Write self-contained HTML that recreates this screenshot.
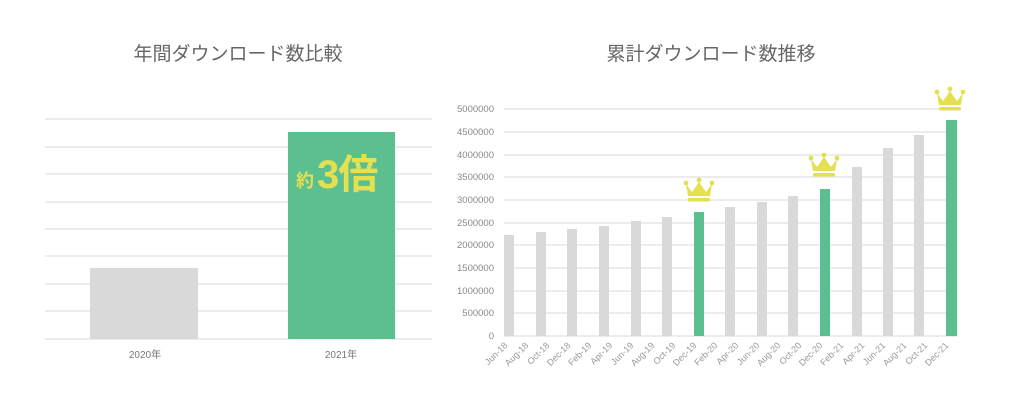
<!DOCTYPE html>
<html><head><meta charset="utf-8"><style>
html,body{margin:0;padding:0;background:#fff;}
svg{display:block;}
text{font-family:"Liberation Sans","Noto Sans CJK JP",sans-serif;}
</style></head><body>
<svg width="1024" height="400" viewBox="0 0 1024 400" xmlns="http://www.w3.org/2000/svg">
<defs>
<g id="crown">
<path d="M2,7 L8,15 L15,5 L22,15 L28,7 L26,19 L4,19 Z" fill="#e4e052"/>
<circle cx="2" cy="6" r="2.4" fill="#e4e052"/>
<circle cx="15" cy="3" r="2.4" fill="#e4e052"/>
<circle cx="28" cy="6" r="2.4" fill="#e4e052"/>
<rect x="4" y="21" width="22" height="3.5" rx="1.5" fill="#e4e052"/>
</g>
</defs>
<text x="238" y="60" font-size="19" fill="#666" text-anchor="middle">年間ダウンロード数比較</text>
<text x="711" y="60" font-size="19" fill="#666" text-anchor="middle">累計ダウンロード数推移</text>
<g stroke="#e6e6e6" stroke-width="1.5">
<line x1="45" y1="119" x2="432" y2="119"/><line x1="45" y1="147" x2="432" y2="147"/>
<line x1="45" y1="174" x2="432" y2="174"/><line x1="45" y1="202" x2="432" y2="202"/>
<line x1="45" y1="229" x2="432" y2="229"/><line x1="45" y1="256" x2="432" y2="256"/>
<line x1="45" y1="284" x2="432" y2="284"/><line x1="45" y1="311" x2="432" y2="311"/>
<line x1="45" y1="339" x2="432" y2="339"/>
</g>
<rect x="90" y="268" width="108" height="71" fill="#d9d9d9"/>
<rect x="288" y="132" width="107" height="207" fill="#5bbf90"/>
<text x="296" y="187" font-size="18" font-weight="bold" fill="#e4e052">約</text>
<text x="317" y="188" font-size="40" font-weight="bold" fill="#e4e052" letter-spacing="-1">3倍</text>
<text x="145" y="358" font-size="10" fill="#777" text-anchor="middle">2020年</text>
<text x="341" y="358" font-size="10" fill="#777" text-anchor="middle">2021年</text>
<g stroke="#e6e6e6" stroke-width="1.5">
<line x1="504" y1="109" x2="946" y2="109"/><line x1="504" y1="132" x2="946" y2="132"/>
<line x1="504" y1="155" x2="946" y2="155"/><line x1="504" y1="177" x2="946" y2="177"/>
<line x1="504" y1="200" x2="946" y2="200"/><line x1="504" y1="223" x2="946" y2="223"/>
<line x1="504" y1="245" x2="946" y2="245"/><line x1="504" y1="268" x2="946" y2="268"/>
<line x1="504" y1="291" x2="946" y2="291"/><line x1="504" y1="313" x2="946" y2="313"/>
<line x1="504" y1="336" x2="957" y2="336"/>
</g>
<g font-size="9.5" fill="#888" text-anchor="end">
<text x="494" y="112">5000000</text><text x="494" y="135">4500000</text>
<text x="494" y="158">4000000</text><text x="494" y="180">3500000</text>
<text x="494" y="203">3000000</text><text x="494" y="226">2500000</text>
<text x="494" y="248">2000000</text><text x="494" y="271">1500000</text>
<text x="494" y="294">1000000</text><text x="494" y="316">500000</text>
<text x="494" y="339">0</text>
</g>
<g fill="#d9d9d9">
<rect x="504" y="235" width="10" height="101"/>
<rect x="536" y="232" width="10" height="104"/>
<rect x="567" y="229" width="10" height="107"/>
<rect x="599" y="226" width="10" height="110"/>
<rect x="631" y="221" width="10" height="115"/>
<rect x="662" y="217" width="10" height="119"/>
<rect x="725" y="207" width="10" height="129"/>
<rect x="757" y="202" width="10" height="134"/>
<rect x="788" y="196" width="10" height="140"/>
<rect x="852" y="167" width="10" height="169"/>
<rect x="883" y="148" width="10" height="188"/>
<rect x="914" y="135" width="10" height="201"/>
</g>
<g fill="#5bbf90">
<rect x="694" y="212" width="10" height="124"/>
<rect x="820" y="189" width="10" height="147"/>
<rect x="946" y="120" width="11" height="216"/>
</g>
<use href="#crown" x="684" y="177"/>
<use href="#crown" x="809" y="152"/>
<use href="#crown" x="935" y="86"/>
<g font-size="9" fill="#999" text-anchor="end">
<text transform="translate(508,346) rotate(-45)">Jun-18</text>
<text transform="translate(529,346) rotate(-45)">Aug-18</text>
<text transform="translate(550,346) rotate(-45)">Oct-18</text>
<text transform="translate(571,346) rotate(-45)">Dec-18</text>
<text transform="translate(592,346) rotate(-45)">Feb-19</text>
<text transform="translate(613,346) rotate(-45)">Apr-19</text>
<text transform="translate(634,346) rotate(-45)">Jun-19</text>
<text transform="translate(655,346) rotate(-45)">Aug-19</text>
<text transform="translate(676,346) rotate(-45)">Oct-19</text>
<text transform="translate(697,346) rotate(-45)">Dec-19</text>
<text transform="translate(718,346) rotate(-45)">Feb-20</text>
<text transform="translate(739,346) rotate(-45)">Apr-20</text>
<text transform="translate(760,346) rotate(-45)">Jun-20</text>
<text transform="translate(781,346) rotate(-45)">Aug-20</text>
<text transform="translate(802,346) rotate(-45)">Oct-20</text>
<text transform="translate(823,346) rotate(-45)">Dec-20</text>
<text transform="translate(844,346) rotate(-45)">Feb-21</text>
<text transform="translate(865,346) rotate(-45)">Apr-21</text>
<text transform="translate(886,346) rotate(-45)">Jun-21</text>
<text transform="translate(907,346) rotate(-45)">Aug-21</text>
<text transform="translate(928,346) rotate(-45)">Oct-21</text>
<text transform="translate(949,346) rotate(-45)">Dec-21</text>
</g>
</svg>
</body></html>
